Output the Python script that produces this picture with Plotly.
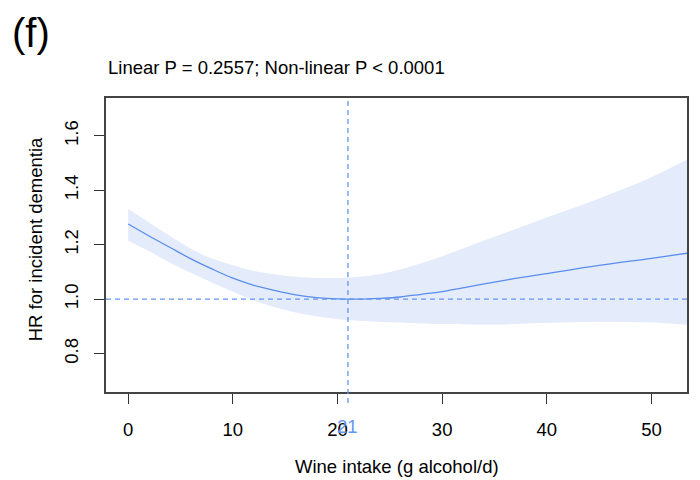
import plotly.graph_objects as go

# Data
wine_g = [0, 2, 4, 6, 8, 10, 12, 14, 16, 18, 20, 22, 24, 26, 28, 30, 35, 40, 45, 50, 54]
hr = [1.276, 1.232, 1.19, 1.148, 1.111, 1.077, 1.051, 1.032, 1.016, 1.006, 1.001, 1.0, 1.003, 1.008,
      1.018, 1.028, 1.063, 1.094, 1.124, 1.150, 1.172]
hr_upper = [1.331, 1.282, 1.232, 1.185, 1.149, 1.125, 1.104, 1.092, 1.082, 1.078, 1.078, 1.082,
            1.092, 1.109, 1.132, 1.158, 1.229, 1.300, 1.370, 1.448, 1.525]
hr_lower = [1.215, 1.176, 1.134, 1.097, 1.061, 1.027, 0.995, 0.970, 0.951, 0.937, 0.927, 0.921,
            0.917, 0.914, 0.911, 0.909, 0.907, 0.913, 0.917, 0.914, 0.904]
ref_x = 21
x_ticks = [0, 10, 20, 30, 40, 50]
y_ticks = [0.8, 1.0, 1.2, 1.4, 1.6]
y_tick_text = ["0.8", "1.0", "1.2", "1.4", "1.6"]

FONT = "Liberation Sans, Arial, Helvetica, sans-serif"
FS = 18.5
LINE_BLUE = "#5b8def"
DASH_BLUE = "#6496f0"
FILL = "#e4ebfa"

fig = go.Figure()
fig.add_trace(go.Scatter(x=wine_g, y=hr_upper, mode="lines", line=dict(width=0, shape="spline"),
                         hoverinfo="skip", showlegend=False))
fig.add_trace(go.Scatter(x=wine_g, y=hr_lower, mode="lines", line=dict(width=0, shape="spline"),
                         fill="tonexty", fillcolor=FILL, hoverinfo="skip", showlegend=False))
fig.add_trace(go.Scatter(x=wine_g, y=hr, mode="lines", line=dict(color=LINE_BLUE, width=1.3, shape="spline"),
                         showlegend=False))

# reference lines
fig.add_shape(type="line", xref="paper", yref="y", x0=0, x1=1, y0=1.0, y1=1.0,
              line=dict(color=DASH_BLUE, width=1.1, dash="5px,4px"))
fig.add_shape(type="line", xref="x", yref="paper", x0=ref_x, x1=ref_x, y0=-0.037, y1=1,
              line=dict(color=DASH_BLUE, width=1.3, dash="5px,4px"))

fig.update_layout(
    width=700, height=480,
    margin=dict(l=106, r=11, t=98, b=88),
    paper_bgcolor="white", plot_bgcolor="white",
    font=dict(family=FONT, size=FS, color="black"),
    showlegend=False,
    xaxis=dict(range=[-2.12, 53.4], tickvals=x_ticks, ticks="outside", ticklen=10, tickwidth=1.2,
               tickcolor="#333", showgrid=False, zeroline=False, showline=True, linecolor="#444",
               linewidth=1.5, mirror=True, ticklabelstandoff=10, tickfont=dict(size=FS)),
    yaxis=dict(range=[0.659, 1.739], tickvals=y_ticks, ticktext=y_tick_text, ticks="outside", ticklen=10,
               tickwidth=1.2, tickcolor="#333", showgrid=False, zeroline=False, showline=True,
               linecolor="#444", linewidth=1.5, mirror=True, tickangle=-90, ticklabelstandoff=9,
               tickfont=dict(size=FS)),
)

fig.add_annotation(text="(f)", xref="paper", yref="paper", x=-0.165, y=1.22, xanchor="left",
                   yanchor="middle", showarrow=False, font=dict(size=40, family=FONT))
fig.add_annotation(text="Linear P = 0.2557; Non-linear P < 0.0001", xref="paper", yref="paper",
                   x=0.0, y=1.105, xanchor="left", yanchor="middle", showarrow=False,
                   font=dict(size=FS, family=FONT))
fig.add_annotation(text="Wine intake (g alcohol/d)", xref="paper", yref="paper", x=0.5, y=-0.255,
                   xanchor="center", yanchor="middle", showarrow=False, font=dict(size=FS, family=FONT))
fig.add_annotation(text="HR for incident dementia", xref="paper", yref="paper", x=-0.122, y=0.52,
                   xanchor="center", yanchor="middle", textangle=-90, showarrow=False,
                   font=dict(size=FS, family=FONT))
fig.add_annotation(text=str(ref_x), xref="x", yref="paper", x=ref_x, y=-0.119, xanchor="center",
                   yanchor="middle", showarrow=False, font=dict(size=FS, family=FONT, color=DASH_BLUE))

fig.write_html("out.html", config={"displayModeBar": False},
               post_script="document.body.style.margin='0';document.body.style.padding='0';")
